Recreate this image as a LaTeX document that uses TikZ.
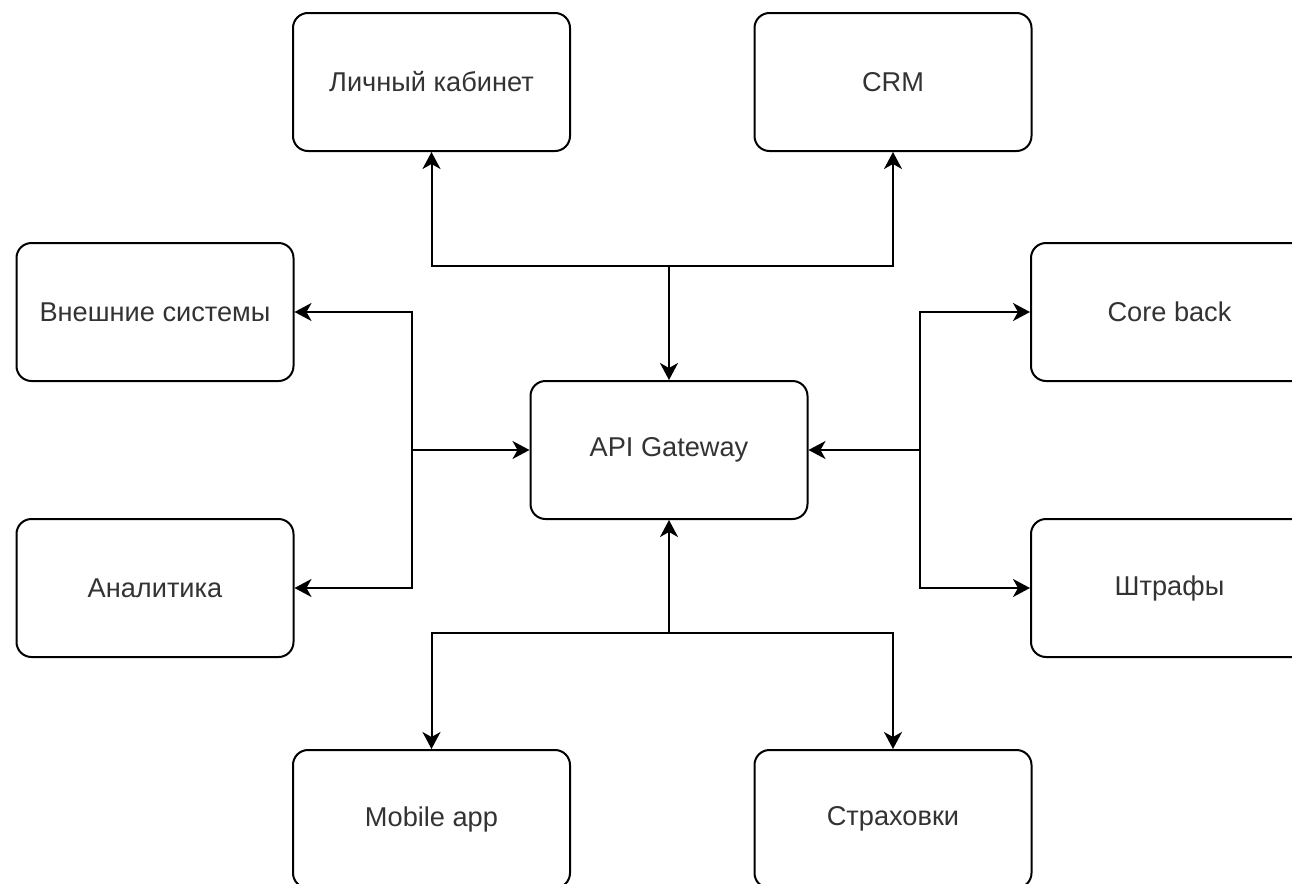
\documentclass[tikz,border=0pt]{standalone}
\usepackage{fontspec}
\setmainfont{Liberation Sans}
\usetikzlibrary{arrows.meta}
\tikzset{
  block/.style={draw=black, line width=1pt, rounded corners=7.5pt, fill=white,
    minimum width=138.5pt, minimum height=69pt, inner sep=0pt,
    font=\fontsize{13.6pt}{16pt}\selectfont, text=black!80},
  link/.style={draw=black, line width=1pt,
    -{Stealth[length=8.5pt, width=9pt, inset=2.5pt]}},
  wire/.style={draw=black, line width=1pt}
}
\begin{document}
\begin{tikzpicture}[x=0.5pt, y=-0.5pt]
  \useasboundingbox (0,0) rectangle (1292,884);
  \fill[white] (0,0) rectangle (1292,884);
  \clip (0,0) rectangle (1292,884);

  % service blocks
  \node[block] (lk)    at (431.5,82)  {Личный кабинет};
  \node[block] (crm)   at (893,82)    {CRM};
  \node[block] (ext)   at (155,312)   {Внешние системы};
  \node[block] (core)  at (1169.5,312){Core back};
  \node[block] (api)   at (669,450)   {API Gateway};
  \node[block] (ana)   at (155,588)   {Аналитика};
  \node[block] (fines) at (1169.5,588){Штрафы};
  \node[block] (mob)   at (431.5,819) {Mobile app};
  \node[block] (ins)   at (893,819)   {Страховки};

  % branching points of the bus lines
  \coordinate (jt) at (669,266);
  \coordinate (jl) at (412,450);
  \coordinate (jr) at (920,450);
  \coordinate (jb) at (669,633);

  % top bus
  \draw[link] (jt) -- (api.north);
  \draw[link] (jt) -| (lk.south);
  \draw[link] (jt) -| (crm.south);

  % left bus
  \draw[link] (jl) -- (api.west);
  \draw[link] (jl) |- (ext.east);
  \draw[link] (jl) |- (ana.east);

  % right bus
  \draw[link] (jr) -- (api.east);
  \draw[link] (jr) |- (core.west);
  \draw[link] (jr) |- (fines.west);

  % bottom bus
  \draw[link] (jb) -- (api.south);
  \draw[link] (jb) -| (mob.north);
  \draw[link] (jb) -| (ins.north);
\end{tikzpicture}
\end{document}
